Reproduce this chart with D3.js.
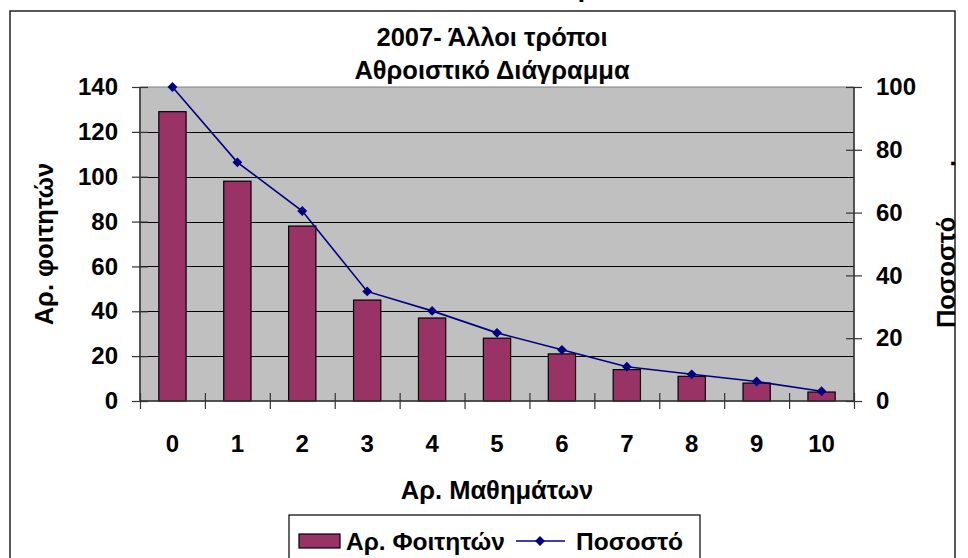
<!DOCTYPE html>
<html>
<head>
<meta charset="utf-8">
<script src="https://cdn.jsdelivr.net/npm/d3@7"></script>
<style>
  body { margin: 0; background: #fff; }
  svg { display: block; font-family: 'Liberation Sans', Arial, sans-serif; font-weight: bold; }
</style>
</head>
<body>
<div id="chart"></div>
<script>
const categories = ['0', '1', '2', '3', '4', '5', '6', '7', '8', '9', '10']
const students = [129, 98, 78, 45, 37, 28, 21, 14, 11, 8, 4]
const percent = [100, 76, 60.5, 34.9, 28.7, 21.7, 16.3, 10.9, 8.5, 6.2, 3.1]
const leftTicks = [0, 20, 40, 60, 80, 100, 120, 140]
const rightTicks = [0, 20, 40, 60, 80, 100]
const gridTicks = [20, 40, 60, 80, 100, 120]

const width = 968
const height = 558
const plot = { left: 140, right: 854, top: 87, bottom: 401 }
const labelSize = 25.5

const svg = d3
  .select('#chart')
  .append('svg')
  .attr('width', width)
  .attr('height', height)

const xPositionScale = d3
  .scaleBand()
  .domain(categories)
  .range([plot.left, plot.right])
  .padding(0)
const xEdgeScale = d3
  .scaleLinear()
  .domain([0, categories.length])
  .range([plot.left, plot.right])
const yLeftScale = d3.scaleLinear().domain([0, 140]).range([plot.bottom, plot.top])
const yRightScale = d3.scaleLinear().domain([0, 100]).range([plot.bottom, plot.top])

// outer chart frame (bottom runs off the page)
svg
  .append('rect')
  .attr('x', 10)
  .attr('y', 11)
  .attr('width', 945)
  .attr('height', 600)
  .attr('fill', 'none')
  .attr('stroke', '#222')
  .attr('stroke-width', 1.5)

// descender of a text that sits above the frame, cut by the page edge
svg
  .append('text')
  .attr('x', 586)
  .attr('y', -3)
  .attr('font-size', labelSize)
  .attr('text-anchor', 'middle')
  .text('ρ')

svg
  .append('text')
  .attr('x', 492)
  .attr('y', 46)
  .attr('font-size', labelSize)
  .attr('text-anchor', 'middle')
  .text('2007- Άλλοι τρόποι')

svg
  .append('text')
  .attr('x', 492)
  .attr('y', 79)
  .attr('font-size', labelSize)
  .attr('text-anchor', 'middle')
  .text('Αθροιστικό Διάγραμμα')

// plot area
svg
  .append('rect')
  .attr('x', plot.left)
  .attr('y', plot.top)
  .attr('width', plot.right - plot.left)
  .attr('height', plot.bottom - plot.top)
  .attr('fill', '#c0c0c0')
  .attr('stroke', '#808080')
  .attr('stroke-width', 1)

svg
  .selectAll('.grid')
  .data(gridTicks)
  .enter()
  .append('line')
  .attr('class', 'grid')
  .attr('x1', plot.left)
  .attr('x2', plot.right)
  .attr('y1', d => Math.round(yLeftScale(d)) + 0.5)
  .attr('y2', d => Math.round(yLeftScale(d)) + 0.5)
  .attr('stroke', '#000')
  .attr('stroke-width', 1)

const barWidth = xPositionScale.bandwidth() * 0.42

svg
  .selectAll('.bar')
  .data(students)
  .enter()
  .append('rect')
  .attr('class', 'bar')
  .attr('x', (d, i) => xPositionScale(categories[i]) + (xPositionScale.bandwidth() - barWidth) / 2)
  .attr('y', d => yLeftScale(d))
  .attr('width', barWidth)
  .attr('height', d => plot.bottom - yLeftScale(d))
  .attr('fill', '#993366')
  .attr('stroke', '#000')
  .attr('stroke-width', 1.2)

const line = d3
  .line()
  .x((d, i) => xPositionScale(categories[i]) + xPositionScale.bandwidth() / 2)
  .y(d => yRightScale(d))

svg
  .append('path')
  .datum(percent)
  .attr('d', line)
  .attr('fill', 'none')
  .attr('stroke', '#000080')
  .attr('stroke-width', 1.6)

const diamond = d3.symbol().type(d3.symbolDiamond2).size(62)

svg
  .selectAll('.marker')
  .data(percent)
  .enter()
  .append('path')
  .attr('class', 'marker')
  .attr('d', diamond)
  .attr('transform', (d, i) => {
    const cx = xPositionScale(categories[i]) + xPositionScale.bandwidth() / 2
    return 'translate(' + cx + ',' + yRightScale(d) + ')'
  })
  .attr('fill', '#000080')

// axes
const yAxisLeft = d3
  .axisLeft(yLeftScale)
  .tickValues(leftTicks)
  .tickSize(16)
  .tickPadding(14)
svg
  .append('g')
  .attr('class', 'axis y-left')
  .attr('transform', 'translate(' + (plot.left + 8) + ',0)')
  .call(yAxisLeft)

const yAxisRight = d3
  .axisRight(yRightScale)
  .tickValues(rightTicks)
  .tickSize(16)
  .tickPadding(14)
svg
  .append('g')
  .attr('class', 'axis y-right')
  .attr('transform', 'translate(' + (plot.right - 8) + ',0)')
  .call(yAxisRight)

const xTicks = d3
  .axisBottom(xEdgeScale)
  .tickValues(d3.range(categories.length + 1))
  .tickSize(16)
  .tickFormat('')
svg
  .append('g')
  .attr('class', 'axis x-ticks')
  .attr('transform', 'translate(0,' + (plot.bottom - 8) + ')')
  .call(xTicks)

const xAxis = d3
  .axisBottom(xPositionScale)
  .tickSize(0)
  .tickPadding(34)
svg
  .append('g')
  .attr('class', 'axis x-axis')
  .attr('transform', 'translate(0,' + plot.bottom + ')')
  .call(xAxis)

svg.selectAll('.axis .domain').remove()
svg.selectAll('.axis line').attr('stroke', '#333').attr('stroke-width', 1.2)
svg
  .selectAll('.axis text')
  .attr('font-size', 24)
  .attr('font-family', "'Liberation Sans', Arial, sans-serif")
  .attr('font-weight', 'bold')
  .attr('fill', '#000')

// axis lines
svg
  .append('line')
  .attr('x1', plot.left)
  .attr('x2', plot.left)
  .attr('y1', plot.top)
  .attr('y2', plot.bottom)
  .attr('stroke', '#333')
  .attr('stroke-width', 1.5)
svg
  .append('line')
  .attr('x1', plot.right)
  .attr('x2', plot.right)
  .attr('y1', plot.top)
  .attr('y2', plot.bottom)
  .attr('stroke', '#333')
  .attr('stroke-width', 1.5)
svg
  .append('line')
  .attr('x1', plot.left)
  .attr('x2', plot.right)
  .attr('y1', plot.bottom)
  .attr('y2', plot.bottom)
  .attr('stroke', '#333')
  .attr('stroke-width', 1.5)

// axis titles
svg
  .append('text')
  .attr('transform', 'translate(53,' + (plot.top + plot.bottom) / 2 + ') rotate(-90)')
  .attr('font-size', labelSize)
  .attr('text-anchor', 'middle')
  .text('Αρ. φοιτητών')

svg
  .append('text')
  .attr('transform', 'translate(955,' + (plot.top + plot.bottom) / 2 + ') rotate(-90)')
  .attr('font-size', labelSize)
  .attr('text-anchor', 'middle')
  .style('white-space', 'pre')
  .text('Ποσοστό       .')

svg
  .append('text')
  .attr('x', (plot.left + plot.right) / 2)
  .attr('y', 499)
  .attr('font-size', labelSize)
  .attr('text-anchor', 'middle')
  .text('Αρ. Μαθημάτων')

// legend
const legend = svg.append('g').attr('class', 'legend')
legend
  .append('rect')
  .attr('x', 289)
  .attr('y', 515)
  .attr('width', 411)
  .attr('height', 60)
  .attr('fill', '#fff')
  .attr('stroke', '#000')
  .attr('stroke-width', 1.2)
legend
  .append('rect')
  .attr('x', 299)
  .attr('y', 534)
  .attr('width', 41)
  .attr('height', 14)
  .attr('fill', '#993366')
  .attr('stroke', '#000')
  .attr('stroke-width', 1.2)
legend
  .append('text')
  .attr('x', 346)
  .attr('y', 550)
  .attr('font-size', 24.5)
  .text('Αρ. Φοιτητών')
legend
  .append('line')
  .attr('x1', 516)
  .attr('x2', 565)
  .attr('y1', 541)
  .attr('y2', 541)
  .attr('stroke', '#000080')
  .attr('stroke-width', 1.6)
legend
  .append('path')
  .attr('d', diamond)
  .attr('transform', 'translate(540,541)')
  .attr('fill', '#000080')
legend
  .append('text')
  .attr('x', 576)
  .attr('y', 550)
  .attr('font-size', 24.5)
  .text('Ποσοστό')
</script>
</body>
</html>
